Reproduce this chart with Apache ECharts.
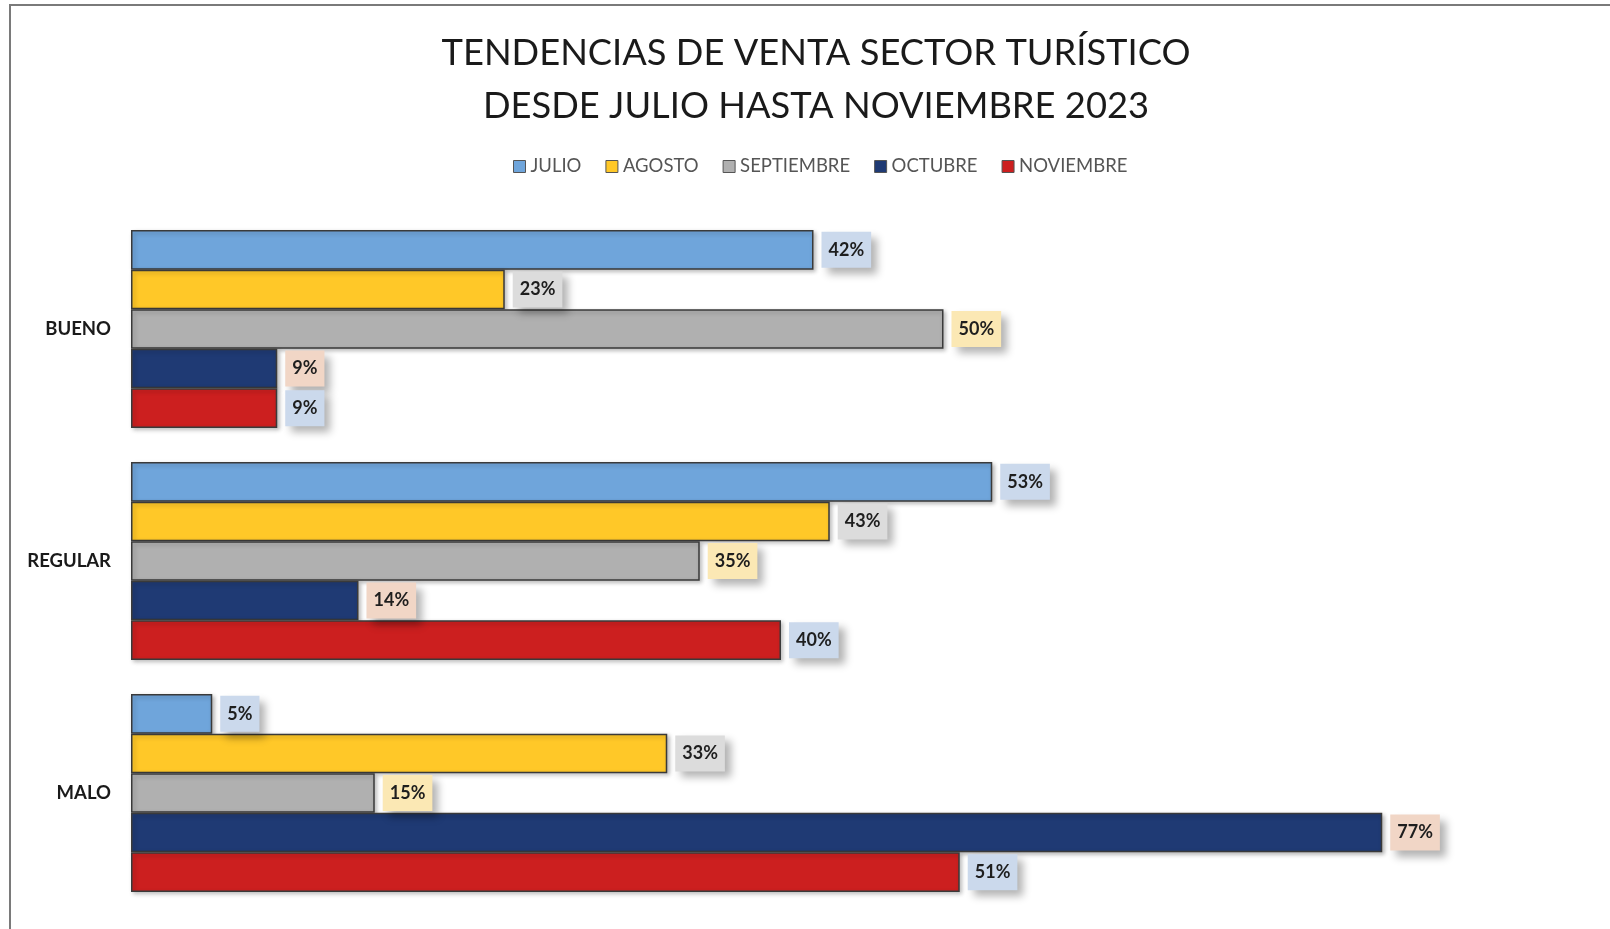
<!DOCTYPE html>
<html>
<head>
<meta charset="utf-8">
<script src="https://cdn.jsdelivr.net/npm/echarts@6/dist/echarts.min.js"></script>
<style>
  html, body { margin: 0; padding: 0; background: #fff; }
  #chart { width: 1610px; height: 929px; }
</style>
</head>
<body>
<div id="chart"></div>
<script>
// categories and series (percent values)
const categories = ['BUENO', 'REGULAR', 'MALO']
const months = ['JULIO', 'AGOSTO', 'SEPTIEMBRE', 'OCTUBRE', 'NOVIEMBRE']
const julio = [42, 53, 5]
const agosto = [23, 43, 33]
const septiembre = [50, 35, 15]
const octubre = [9, 14, 77]
const noviembre = [9, 40, 51]

const values = [julio, agosto, septiembre, octubre, noviembre]
const barColors = ['#6fa5db', '#ffc828', '#b0b0b0', '#1f3a74', '#cc1f1f']
const labelBg = ['#cbd9ec', '#dcdcdc', '#fbe8b4', '#f1d6c6', '#cbd9ec']
const font = 'Lato, "Open Sans", sans-serif'

const chart = echarts.init(document.getElementById('chart'))

const series = months.map((name, i) => ({
  name: name,
  type: 'bar',
  data: values[i],
  barGap: '0%',
  barCategoryGap: '14.7%',
  itemStyle: {
    color: barColors[i],
    borderColor: '#3a3a3a',
    borderWidth: 1.5,
    shadowColor: 'rgba(0,0,0,0.25)',
    shadowBlur: 4,
    shadowOffsetX: 2,
    shadowOffsetY: 2
  },
  label: {
    show: true,
    position: 'right',
    distance: 8,
    formatter: '{c}%',
    fontFamily: font,
    fontWeight: 'bold',
    fontSize: 18,
    color: '#1e1e1e',
    backgroundColor: labelBg[i],
    padding: [9, 7],
    shadowColor: 'rgba(0,0,0,0.3)',
    shadowBlur: 8,
    shadowOffsetX: 6,
    shadowOffsetY: 6
  }
}))

chart.setOption({
  animation: false,
  backgroundColor: '#fff',
  title: {
    text: 'TENDENCIAS DE VENTA SECTOR TURÍSTICO\nDESDE JULIO HASTA NOVIEMBRE 2023',
    left: 816,
    textAlign: 'center',
    top: 27,
    padding: 0,
    textStyle: {
      fontFamily: font,
      fontWeight: 'normal',
      fontSize: 36.3,
      lineHeight: 53,
      color: '#1a1a1a'
    }
  },
  legend: {
    data: months,
    top: 157,
    left: 513,
    padding: 0,
    itemWidth: 12,
    itemHeight: 12,
    itemGap: 24,
    icon: 'rect',
    itemStyle: { borderColor: '#555', borderWidth: 1 },
    textStyle: { fontFamily: font, fontSize: 18.5, color: '#555' }
  },
  grid: {
    left: 131,
    right: 179,
    top: 213,
    bottom: 20
  },
  xAxis: {
    type: 'value',
    min: 0,
    max: 80,
    show: false
  },
  yAxis: {
    type: 'category',
    data: categories,
    inverse: true,
    axisLine: { show: false },
    axisTick: { show: false },
    axisLabel: {
      margin: 20,
      fontFamily: font,
      fontWeight: 'bold',
      fontSize: 18.5,
      color: '#1a1a1a'
    }
  },
  graphic: [{
    type: 'rect',
    shape: { x: 10, y: 5, width: 1700, height: 1000 },
    style: { fill: null, stroke: '#7a7a7a', lineWidth: 2 },
    silent: true
  }],
  series: series
})
</script>
</body>
</html>
